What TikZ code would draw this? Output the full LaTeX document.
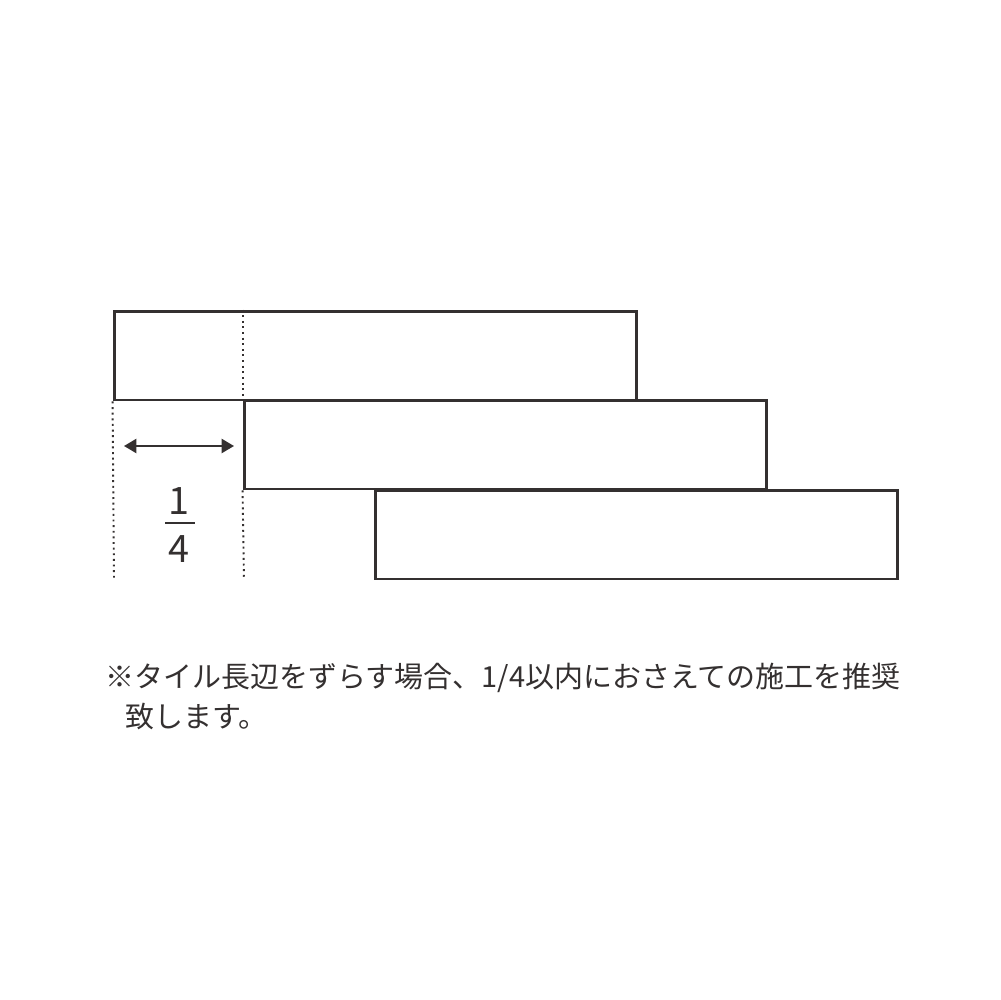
\documentclass[tikz,border=0pt]{standalone}
\usepackage{fontspec}
\setmainfont{Noto Sans CJK JP}
\newfontfamily\jpfont{Noto Sans CJK JP}
\usetikzlibrary{arrows.meta}
\definecolor{inkgray}{RGB}{52,48,48}
\tikzset{
  tile/.style={draw=inkgray, line width=1.7pt, rectangle, minimum width=10.46cm, minimum height=1.78cm, inner sep=0pt},
  guide/.style={draw=inkgray, line width=1.1pt, dash pattern=on 1.1pt off 2.1pt},
  note/.style={anchor=west, inner sep=0pt, text=inkgray, font=\jpfont\fontsize{16.5pt}{20pt}\selectfont},
}
\begin{document}
\begin{tikzpicture}[x=0.02cm, y=-0.02cm]     % shifted tile rows
  \useasboundingbox (0,0) rectangle (1000,1000);
  \node[tile] (tile1) at (375.5,355.5) {};
  \node[tile] (tile2) at (505.5,444.5) {};
  \node[tile] (tile3) at (636.5,534.5) {};
  % guide lines
  \coordinate (lbot) at (114,580);
  \coordinate (mbot) at (244,580);
  \draw[guide] (tile1.south west) -- (lbot);
  \draw[guide] (tile1.north west -| tile2.west) -- (tile2.north west);
  \draw[guide] (tile2.south west) -- (mbot);
  % offset arrow
  \coordinate (arrL) at (124,446);
  \coordinate (arrR) at (234,446);
  \draw[draw=inkgray, line width=1.1pt, {Triangle[length=7pt,width=8pt]}-{Triangle[length=7pt,width=8pt]}] (arrL) -- (arrR);
  \node[text=inkgray, font=\jpfont\fontsize{21.5pt}{24pt}\selectfont, inner sep=0pt] (num) at (179,501) {1};
  \node[text=inkgray, font=\jpfont\fontsize{21.5pt}{24pt}\selectfont, inner sep=0pt] (den) at (179,549) {4};
  \draw[draw=inkgray, line width=1pt] (165,523) -- (195,523);
  % note
  \node[note] (note1) at (105,678) {※タイル長辺をずらす場合、1/4以内におさえての施工を推奨};
  \node[note] (note2) at (125,717) {致します。};
\end{tikzpicture}
\end{document}
